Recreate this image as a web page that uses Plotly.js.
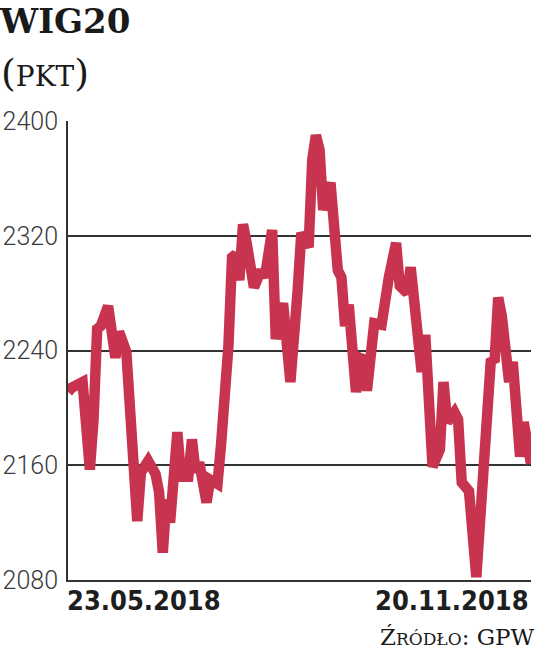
<!DOCTYPE html>
<html>
<head>
<meta charset="utf-8">
<script src="https://cdn.plot.ly/plotly-3.0.1.min.js"></script>
<style>html,body{margin:0;padding:0;background:#fff;}#chart{width:536px;height:664px;}</style>
</head>
<body>
<div id="chart"></div>
<script>
// trading-day index (0 = 23.05.2018, 127 = 20.11.2018)
const dayIndex = [0,1,4,6,7,8,9,11,13,14,16,19,20,22,24,25,26,27,28,30,31,33,34,35,36,38,39,41,42,43,44,45,46,47,48,49,51,53,54,56,57,59,61,63,64,66,67,68,69,70,72,74,75,76,77,79,80,81,82,84,86,88,90,91,93,94,95,97,98,100,102,103,104,106,107,108,110,112,116,117,118,119,121,122,124,125,127];
const wig20 = [2211,2214,2218,2157,2192,2255,2257,2271,2235,2253,2239,2121,2155,2163,2154,2141,2099,2136,2120,2183,2152,2152,2178,2155,2162,2134,2150,2147,2175,2208,2243,2305,2307,2289,2328,2315,2284,2296,2291,2324,2248,2273,2218,2282,2322,2312,2373,2390,2380,2338,2357,2296,2291,2257,2272,2211,2235,2234,2212,2259,2258,2291,2315,2285,2280,2298,2268,2225,2251,2159,2171,2218,2190,2197,2192,2148,2142,2082,2234,2232,2277,2264,2218,2232,2166,2190,2161];
const yTicks = [2080,2160,2240,2320,2400];
const dateLabels = ["23.05.2018","20.11.2018"];
const titleText = "WIG20";
const unitText = "<span style=\"font-size:38px\">(</span>PKT<span style=\"font-size:38px\">)</span>";
const sourceText = "Ź<span style=\"font-size:17px\">RÓDŁO</span>: GPW";

const trace = {
  x: dayIndex, y: wig20, type: 'scatter', mode: 'lines',
  line: {color: '#c8344f', width: 10.5, shape: 'linear'},
  hoverinfo: 'skip'
};

const layout = {
  width: 536, height: 664,
  margin: {l: 68, r: 5, t: 121, b: 84},
  paper_bgcolor: '#ffffff', plot_bgcolor: '#ffffff',
  showlegend: false,
  xaxis: {
    range: [0, 127], showgrid: false, zeroline: false,
    showline: true, linecolor: '#333', linewidth: 2,
    showticklabels: false, ticks: ''
  },
  yaxis: {
    range: [2080, 2400], tickvals: yTicks, ticktext: yTicks.map(String),
    showgrid: true, gridcolor: '#333', gridwidth: 2,
    zeroline: false, showline: true, linecolor: '#333', linewidth: 2,
    ticks: '', ticklabelstandoff: 3,
    tickfont: {family: 'Roboto, sans-serif', size: 25, color: '#3a3a3a', weight: 300}
  },
  annotations: [
    {xref: 'x', yref: 'paper', x: dayIndex[0], y: 0, xanchor: 'left', yanchor: 'top', yshift: -3, xshift: -3,
     text: dateLabels[0], showarrow: false,
     font: {family: 'DejaVu Sans Condensed, sans-serif', size: 27, color: '#1e1e1e', weight: 'bold'}},
    {xref: 'x', yref: 'paper', x: dayIndex[dayIndex.length-1], y: 0, xanchor: 'right', yanchor: 'top', yshift: -3, xshift: 0,
     text: dateLabels[1], showarrow: false,
     font: {family: 'DejaVu Sans Condensed, sans-serif', size: 27, color: '#1e1e1e', weight: 'bold'}},
    {xref: 'paper', yref: 'paper', x: -68/463, y: 1, xanchor: 'left', yanchor: 'bottom', yshift: 78, xshift: -3,
     text: titleText, showarrow: false,
     font: {family: 'DejaVu Serif, serif', size: 34, color: '#1a1a1a', weight: 'bold'}},
    {xref: 'paper', yref: 'paper', x: -68/463, y: 1, xanchor: 'left', yanchor: 'bottom', yshift: 24, xshift: -1,
     text: unitText, showarrow: false,
     font: {family: 'DejaVu Serif, serif', size: 28, color: '#1a1a1a'}},
    {xref: 'paper', yref: 'paper', x: 1, y: 0, xanchor: 'right', yanchor: 'top', yshift: -42, xshift: 6,
     text: sourceText, showarrow: false,
     font: {family: 'DejaVu Serif, serif', size: 23, color: '#1a1a1a'}}
  ]
};

Plotly.newPlot('chart', [trace], layout, {displayModeBar: false, staticPlot: true});
</script>
</body>
</html>
